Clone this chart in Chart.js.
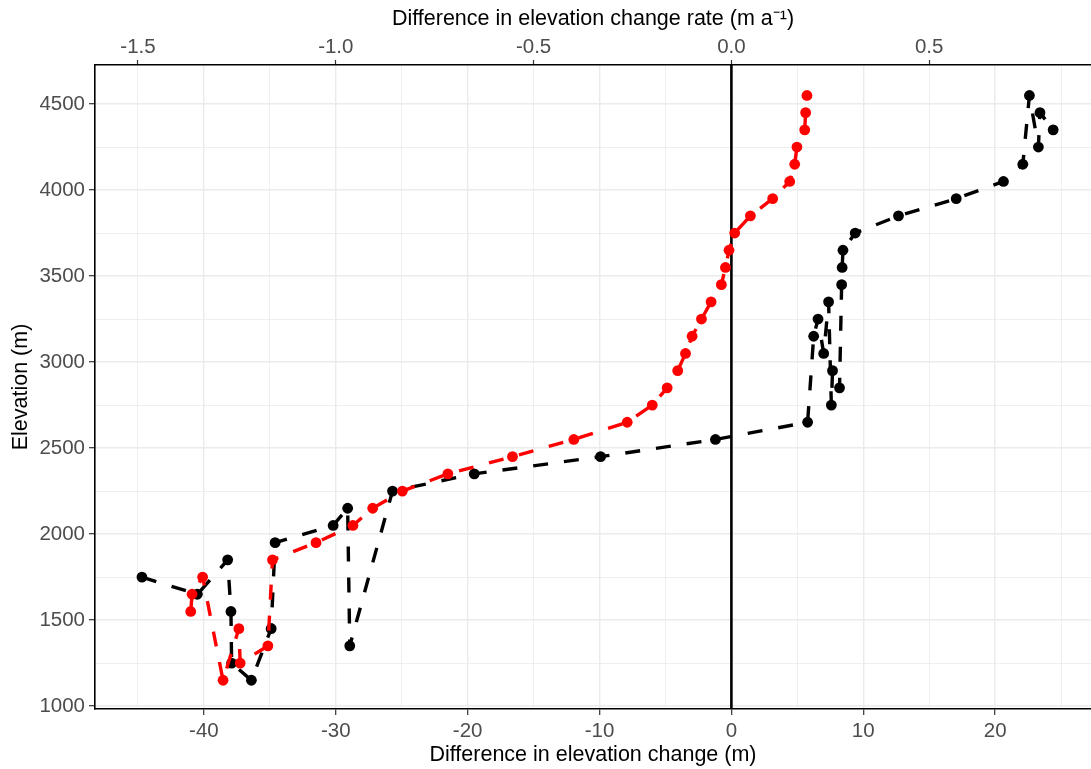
<!DOCTYPE html>
<html>
<head>
<meta charset="utf-8">
<title>Elevation change difference</title>
<script src="https://cdn.jsdelivr.net/npm/chart.js@4.4.1/dist/chart.umd.min.js"></script>
<style>
    html, body { margin: 0; padding: 0; background: #ffffff; }
    #wrap { width: 1091px; height: 769px; }
</style>
</head>
<body>
<div id="wrap"><canvas id="elevChart" width="1091" height="769"></canvas></div>
<script>
// ===== data =====
const elevations = [1150, 1250, 1350, 1450, 1550, 1650, 1750, 1850, 1950, 2050,
    2150, 2250, 2350, 2450, 2550, 2650, 2750, 2850, 2950, 3050,
    3150, 3250, 3350, 3450, 3550, 3650, 3750, 3850, 3950, 4050,
    4150, 4250, 4350, 4450, 4550];

// difference in elevation change (m), black series
const diffBlack = [-36.4, -37.9, -28.94, -34.9, -37.95, -40.5, -44.7, -38.2, -34.6, -30.2,
    -29.1, -25.7, -19.5, -9.92, -1.21, 5.78, 7.58, 8.2, 7.67, 7.0,
    6.24, 6.57, 7.37, 8.36, 8.4, 8.46, 9.39, 12.67, 17.05, 20.63,
    22.1, 23.28, 24.4, 23.4, 22.6];

// difference in elevation change (m), red series
const diffRed = [-38.55, -37.25, -35.15, -37.35, -41.0, -40.9, -40.1, -34.8, -31.5, -28.7,
    -27.2, -24.95, -21.5, -16.6, -11.95, -7.9, -6.0, -4.87, -4.07, -3.48,
    -2.98, -2.27, -1.54, -0.76, -0.45, -0.18, 0.25, 1.44, 3.13, 4.42,
    4.8, 4.97, 5.56, 5.63, 5.73];

// axis ticks (minor ones get no label)
const diffTicks = [-45, -40, -35, -30, -25, -20, -15, -10, -5, 0, 5, 10, 15, 20, 25];
const diffLabelled = [-40, -30, -20, -10, 0, 10, 20];
const rateTicks = [-1.5, -1.0, -0.5, 0.0, 0.5];
const elevTicks = [1000, 1250, 1500, 1750, 2000, 2250, 2500, 2750, 3000, 3250,
    3500, 3750, 4000, 4250, 4500];
const elevLabelled = [1000, 1500, 2000, 2500, 3000, 3500, 4000, 4500];

const xMin = -48.26, xMax = 27.27;   // m
const yMin = 983, yMax = 4727;       // m
const yearsFactor = 30;              // top axis = bottom axis / 30 (m a^-1)
const zeroLine = 0;

// ggplot's geom_line joins points in order of x
function buildPoints(diffs) {
    return diffs.map((d, i) => ({ x: d, y: elevations[i] })).sort((a, b) => a.x - b.x);
}

const tickGrey = '#4d4d4d';
const gridGrey = '#ebebeb';
const tickFont = { family: 'Liberation Sans', size: 20.5 };
const titleFont = { family: 'Liberation Sans', size: 21.5 };

const zeroLinePlugin = {
    id: 'zeroLine',
    beforeDatasetsDraw(chart) {
        const { ctx, chartArea, scales } = chart;
        const px = scales.x.getPixelForValue(zeroLine);
        ctx.save();
        ctx.strokeStyle = '#000000';
        ctx.lineWidth = 2.6;
        ctx.beginPath();
        ctx.moveTo(px, chartArea.top);
        ctx.lineTo(px, chartArea.bottom);
        ctx.stroke();
        ctx.restore();
    }
};

function seriesDataset(label, diffs, color, order) {
    return {
        label: label,
        data: buildPoints(diffs),
        showLine: true,
        borderColor: color,
        backgroundColor: color,
        borderWidth: 3.4,
        borderDash: [15, 16],
        borderJoinStyle: 'round',
        pointRadius: 5.4,
        pointHoverRadius: 5.4,
        pointBorderWidth: 0,
        order: order
    };
}

function setTicks(values) {
    return (scale) => { scale.ticks = values.map(v => ({ value: v })); };
}

new Chart(document.getElementById('elevChart').getContext('2d'), {
    type: 'scatter',
    data: {
        datasets: [
            seriesDataset('red', diffRed, '#ff0000', 1),
            seriesDataset('black', diffBlack, '#000000', 2)
        ]
    },
    options: {
        responsive: false,
        animation: false,
        layout: { padding: 0, autoPadding: false },
        plugins: { legend: { display: false }, tooltip: { enabled: false } },
        scales: {
            x: {
                type: 'linear',
                position: 'bottom',
                min: xMin,
                max: xMax,
                afterBuildTicks: setTicks(diffTicks),
                afterFit: (scale) => { scale.height = 60; },
                ticks: {
                    autoSkip: false,
                    maxRotation: 0,
                    color: tickGrey,
                    padding: 4,
                    font: tickFont,
                    callback: (v) => (diffLabelled.includes(v) ? String(v) : '')
                },
                grid: {
                    color: gridGrey,
                    lineWidth: (c) => (c.tick && diffLabelled.includes(c.tick.value) ? 1.4 : 0.8),
                    tickLength: 6,
                    tickWidth: 1.2,
                    tickColor: (c) => (c.tick && diffLabelled.includes(c.tick.value) ? '#333333' : 'rgba(0,0,0,0)')
                },
                border: { display: true, color: '#000000', width: 1.6 },
                title: {
                    display: true,
                    text: 'Difference in elevation change (m)',
                    color: '#000000',
                    font: titleFont,
                    padding: { top: 0, bottom: 1 }
                }
            },
            x2: {
                type: 'linear',
                position: 'top',
                min: xMin / yearsFactor,
                max: xMax / yearsFactor,
                afterBuildTicks: setTicks(rateTicks),
                afterFit: (scale) => { scale.height = 65; },
                ticks: {
                    autoSkip: false,
                    maxRotation: 0,
                    color: tickGrey,
                    padding: 0,
                    font: tickFont,
                    callback: (v) => v.toFixed(1)
                },
                grid: {
                    drawOnChartArea: false,
                    tickLength: 5,
                    tickWidth: 1.2,
                    tickColor: '#333333'
                },
                border: { display: true, color: '#000000', width: 1.6 },
                title: {
                    display: true,
                    text: 'Difference in elevation change rate (m a\u207B\u00B9)',
                    color: '#000000',
                    font: titleFont,
                    padding: { top: 6, bottom: 0 }
                }
            },
            y: {
                type: 'linear',
                position: 'left',
                min: yMin,
                max: yMax,
                afterBuildTicks: setTicks(elevTicks),
                afterFit: (scale) => { scale.width = 95; },
                ticks: {
                    autoSkip: false,
                    color: tickGrey,
                    padding: 4,
                    font: tickFont,
                    callback: (v) => (elevLabelled.includes(v) ? String(v) : '')
                },
                grid: {
                    color: gridGrey,
                    lineWidth: (c) => (c.tick && elevLabelled.includes(c.tick.value) ? 1.4 : 0.8),
                    tickLength: 6,
                    tickWidth: 1.2,
                    tickColor: (c) => (c.tick && elevLabelled.includes(c.tick.value) ? '#333333' : 'rgba(0,0,0,0)')
                },
                border: { display: true, color: '#000000', width: 1.6 },
                title: {
                    display: true,
                    text: 'Elevation (m)',
                    color: '#000000',
                    font: titleFont,
                    padding: { top: 8, bottom: 0 }
                }
            }
        }
    },
    plugins: [zeroLinePlugin]
});
</script>
</body>
</html>
